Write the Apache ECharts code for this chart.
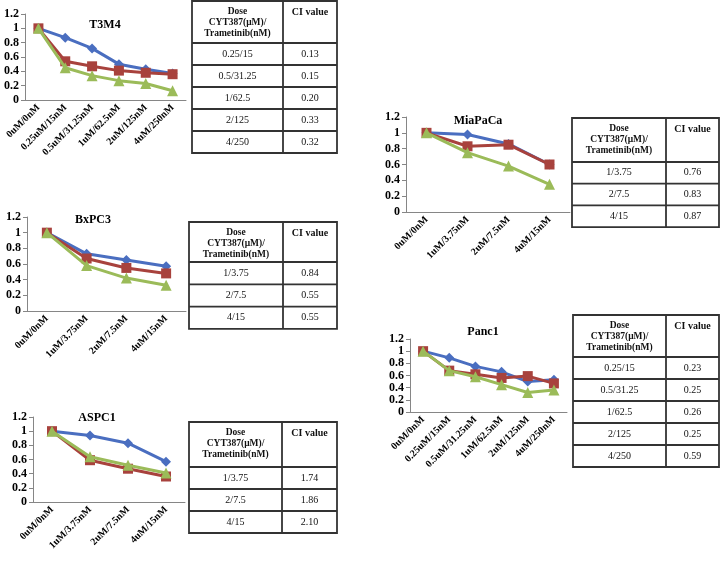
<!DOCTYPE html>
<html>
<head>
<meta charset="utf-8">
<script src="https://cdn.jsdelivr.net/npm/echarts@6/dist/echarts.min.js"></script>
<style>
  html, body { margin: 0; padding: 0; background: #fff; }
  #main { width: 721px; height: 562px; }
</style>
</head>
<body>
<div id="main"></div>
<script>
// 剂量类别
var cats6 = ['0uM/0nM', '0.25uM/15nM', '0.5uM/31.25nM', '1uM/62.5nM', '2uM/125nM', '4uM/250nM'];
var cats4 = ['0uM/0nM', '1uM/3.75nM', '2uM/7.5nM', '4uM/15nM'];

// 各细胞系数据 (蓝=CYT387, 红=Trametinib, 绿=联合)
var t3m4Blue  = [1, 0.87, 0.72, 0.50, 0.43, 0.37];
var t3m4Red   = [1, 0.54, 0.47, 0.41, 0.38, 0.36];
var t3m4Green = [1, 0.45, 0.34, 0.27, 0.23, 0.13];

var bxpc3Blue  = [1, 0.73, 0.65, 0.57];
var bxpc3Red   = [1, 0.67, 0.55, 0.48];
var bxpc3Green = [1, 0.58, 0.42, 0.33];

var miapacaBlue  = [1, 0.98, 0.86, 0.60];
var miapacaRed   = [1, 0.83, 0.85, 0.60];
var miapacaGreen = [1, 0.75, 0.58, 0.35];

var aspc1Blue  = [1, 0.94, 0.83, 0.57];
var aspc1Red   = [1, 0.59, 0.47, 0.36];
var aspc1Green = [1, 0.64, 0.52, 0.41];

var panc1Blue  = [1, 0.89, 0.75, 0.66, 0.50, 0.53];
var panc1Red   = [1, 0.68, 0.62, 0.56, 0.59, 0.47];
var panc1Green = [1, 0.68, 0.58, 0.45, 0.32, 0.36];

var yTicks = [0, 0.2, 0.4, 0.6, 0.8, 1, 1.2];

// CI 表格
var tableHeader = ['Dose\nCYT387(μM)/\nTrametinib(nM)', 'CI value'];
var doses5 = ['0.25/15', '0.5/31.25', '1/62.5', '2/125', '4/250'];
var doses3 = ['1/3.75', '2/7.5', '4/15'];
var t3m4CI    = ['0.13', '0.15', '0.20', '0.33', '0.32'];
var bxpc3CI   = ['0.84', '0.55', '0.55'];
var miapacaCI = ['0.76', '0.83', '0.87'];
var aspc1CI   = ['1.74', '1.86', '2.10'];
var panc1CI   = ['0.23', '0.25', '0.26', '0.25', '0.59'];

var SERIF = '"Liberation Serif", "DejaVu Serif", serif';
var colors = ['#4a6ec0', '#a8423d', '#9bbb59'];
var symbols = ['diamond', 'rect', 'triangle'];
var symbolSizes = [10, 10, 11];

var panels = [
  { name: 'T3M4', cats: cats6, data: [t3m4Blue, t3m4Red, t3m4Green],
    grid: { left: 25, top: 14, width: 161, height: 86 }, title: [105, 25],
    doses: doses5, ci: t3m4CI, table: { x: 192, y: 1, col: 283, right: 337, head: 42, row: 22 } },
  { name: 'BxPC3', cats: cats4, data: [bxpc3Blue, bxpc3Red, bxpc3Green],
    grid: { left: 27, top: 217, width: 159, height: 94 }, title: [93, 220],
    doses: doses3, ci: bxpc3CI, table: { x: 189, y: 222, col: 283, right: 337, head: 40, row: 22.3 } },
  { name: 'MiaPaCa', cats: cats4, data: [miapacaBlue, miapacaRed, miapacaGreen],
    grid: { left: 406, top: 117, width: 164, height: 95 }, title: [478, 121],
    doses: doses3, ci: miapacaCI, table: { x: 572, y: 118, col: 666, right: 719, head: 44, row: 21.7 } },
  { name: 'ASPC1', cats: cats4, data: [aspc1Blue, aspc1Red, aspc1Green],
    grid: { left: 33, top: 417, width: 152, height: 85 }, title: [97, 418],
    doses: doses3, ci: aspc1CI, table: { x: 189, y: 422, col: 282, right: 337, head: 45, row: 22 } },
  { name: 'Panc1', cats: cats6, data: [panc1Blue, panc1Red, panc1Green],
    grid: { left: 410, top: 339, width: 157, height: 73 }, title: [483, 332],
    doses: doses5, ci: panc1CI, table: { x: 573, y: 315, col: 666, right: 719, head: 42, row: 22 } }
];

var grids = [], xAxes = [], yAxes = [], series = [], graphics = [];

panels.forEach(function (p, i) {
  grids.push(p.grid);
  xAxes.push({
    type: 'category', gridIndex: i, data: p.cats,
    axisLine: { lineStyle: { color: '#868686', width: 1 } },
    axisTick: { length: 4, lineStyle: { color: '#868686' } },
    axisLabel: { rotate: 45, interval: 0, margin: 6, fontFamily: SERIF, fontWeight: 'bold', fontSize: 10, color: '#000' },
    splitLine: { show: false }
  });
  yAxes.push({
    type: 'value', gridIndex: i, min: yTicks[0], max: yTicks[yTicks.length - 1], interval: 0.2,
    axisLine: { show: true, lineStyle: { color: '#868686', width: 1 } },
    axisTick: { show: true, length: 4, lineStyle: { color: '#868686' } },
    axisLabel: { margin: 6, fontFamily: SERIF, fontWeight: 'bold', fontSize: 12, color: '#000' },
    splitLine: { show: false }
  });
  p.data.forEach(function (d, k) {
    series.push({
      type: 'line', xAxisIndex: i, yAxisIndex: i, data: d,
      symbol: symbols[k], symbolSize: symbolSizes[k], showSymbol: true,
      lineStyle: { color: colors[k], width: 3 },
      itemStyle: { color: colors[k] },
      z: 2 + k, animation: false
    });
  });

  // 标题
  graphics.push({
    type: 'text', x: p.title[0], y: p.title[1], z: 10,
    style: { text: p.name, font: 'bold 12px ' + SERIF, fill: '#000',
      textAlign: 'center', textVerticalAlign: 'middle', align: 'center', verticalAlign: 'middle' }
  });

  // 表格
  var t = p.table;
  var n = p.ci.length;
  var bottom = t.y + t.head + t.row * n;
  graphics.push({ type: 'rect', shape: { x: t.x, y: t.y, width: t.right - t.x, height: bottom - t.y },
    style: { fill: '#fff', stroke: '#333', lineWidth: 1.8 }, z: 1 });
  graphics.push({ type: 'line', shape: { x1: t.col, y1: t.y, x2: t.col, y2: bottom },
    style: { stroke: '#333', lineWidth: 1.8 }, z: 2 });
  for (var r = 0; r < n; r++) {
    var ly = t.y + t.head + t.row * r;
    graphics.push({ type: 'line', shape: { x1: t.x, y1: ly, x2: t.right, y2: ly },
      style: { stroke: '#333', lineWidth: 1.8 }, z: 2 });
    graphics.push({ type: 'text', x: (t.x + t.col) / 2, y: ly + t.row / 2, z: 3,
      style: { text: p.doses[r], font: '10px ' + SERIF, fill: '#111',
        textAlign: 'center', textVerticalAlign: 'middle', align: 'center', verticalAlign: 'middle' } });
    graphics.push({ type: 'text', x: (t.col + t.right) / 2, y: ly + t.row / 2, z: 3,
      style: { text: p.ci[r], font: '10px ' + SERIF, fill: '#111',
        textAlign: 'center', textVerticalAlign: 'middle', align: 'center', verticalAlign: 'middle' } });
  }
  graphics.push({ type: 'text', x: (t.x + t.col) / 2, y: t.y + 5, z: 3,
    style: { text: tableHeader[0], font: 'bold 9.5px ' + SERIF, fill: '#111', lineHeight: 11,
      textAlign: 'center', textVerticalAlign: 'top', align: 'center', verticalAlign: 'top' } });
  graphics.push({ type: 'text', x: (t.col + t.right) / 2, y: t.y + 6, z: 3,
    style: { text: tableHeader[1], font: 'bold 10px ' + SERIF, fill: '#111',
      textAlign: 'center', textVerticalAlign: 'top', align: 'center', verticalAlign: 'top' } });
});

var myChart = echarts.init(document.getElementById('main'), null, { renderer: 'canvas' });
myChart.setOption({
  backgroundColor: '#fff',
  animation: false,
  grid: grids,
  xAxis: xAxes,
  yAxis: yAxes,
  series: series,
  graphic: graphics
});
</script>
</body>
</html>
